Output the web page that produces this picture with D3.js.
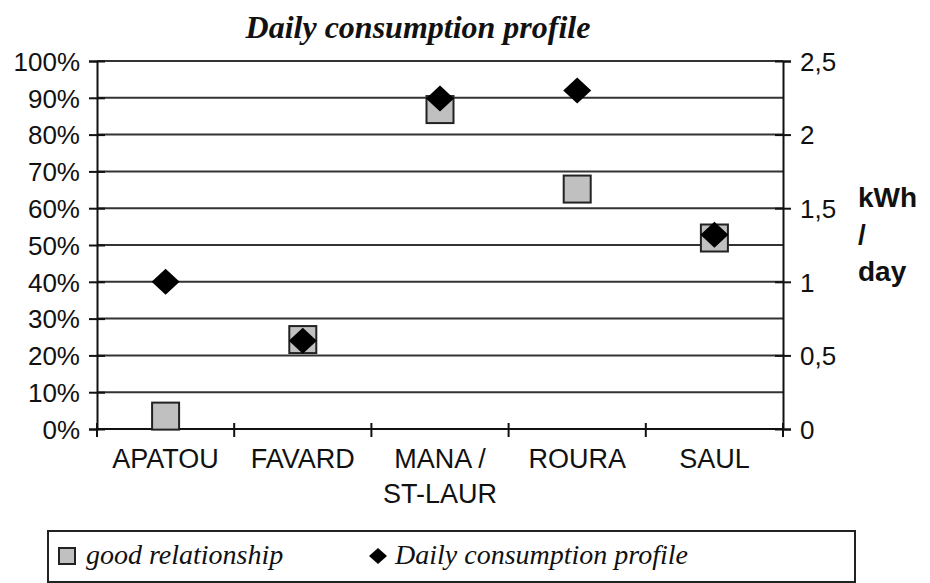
<!DOCTYPE html>
<html>
<head>
<meta charset="utf-8">
<script src="https://cdn.jsdelivr.net/npm/d3@7"></script>
<style>
  body { margin: 0; background: #fff; }
  svg { display: block; }
  text { fill: #111; }
</style>
</head>
<body>
<div id="chart"></div>
<script>
// data
const categories = ["APATOU", "FAVARD", "MANA /\nST-LAUR", "ROURA", "SAUL"];
const goodRelationship = [0.035, 0.243, 0.868, 0.652, 0.519];   // left axis, share
const dailyConsumption = [1.0, 0.6, 2.245, 2.3, 1.32];           // right axis, kWh/day
const leftTicks = [0, 0.1, 0.2, 0.3, 0.4, 0.5, 0.6, 0.7, 0.8, 0.9, 1];
const rightTicks = [0, 0.5, 1, 1.5, 2, 2.5];

const width = 930, height = 583;
const sans = "'Liberation Sans', Arial, sans-serif";
const serif = "'Liberation Serif', 'Times New Roman', serif";

const svg = d3.select("#chart").append("svg")
    .attr("width", width)
    .attr("height", height);

const plot = { left: 97, right: 783, top: 61, bottom: 429 };

const x = d3.scaleBand()
    .domain(categories)
    .range([plot.left, plot.right]);

const yLeft = d3.scaleLinear().domain([0, 1]).range([plot.bottom, plot.top]);
const yRight = d3.scaleLinear().domain([0, 2.5]).range([plot.bottom, plot.top]);

// gridlines
svg.append("g")
    .selectAll("line")
    .data(leftTicks.filter(d => d > 0))
    .join("line")
    .attr("x1", plot.left).attr("x2", plot.right)
    .attr("y1", d => yLeft(d)).attr("y2", d => yLeft(d))
    .attr("stroke", "#333").attr("stroke-width", 2);

// left axis
const leftAxis = svg.append("g")
    .attr("transform", `translate(${plot.left},0)`)
    .call(d3.axisLeft(yLeft).tickValues(leftTicks).tickFormat(d3.format(".0%")).tickSize(8).tickPadding(9));
leftAxis.select(".domain").attr("stroke", "#111").attr("stroke-width", 2);
leftAxis.selectAll(".tick line").attr("x1", -8).attr("x2", 8).attr("stroke", "#111").attr("stroke-width", 2);
leftAxis.selectAll(".tick text")
    .attr("font-family", sans).attr("font-size", 26).attr("fill", "#111").attr("dy", "0.36em");

// right axis
const rightAxis = svg.append("g")
    .attr("transform", `translate(${plot.right},0)`)
    .call(d3.axisRight(yRight).tickValues(rightTicks).tickFormat(d => String(d).replace(".", ",")).tickSize(8).tickPadding(9));
rightAxis.select(".domain").attr("stroke", "#111").attr("stroke-width", 2);
rightAxis.selectAll(".tick line").attr("x1", -8).attr("x2", 8).attr("stroke", "#111").attr("stroke-width", 2);
rightAxis.selectAll(".tick text")
    .attr("font-family", sans).attr("font-size", 26).attr("fill", "#111").attr("dy", "0.36em");

// bottom axis (category boundaries)
svg.append("line")
    .attr("x1", plot.left).attr("x2", plot.right)
    .attr("y1", plot.bottom).attr("y2", plot.bottom)
    .attr("stroke", "#111").attr("stroke-width", 2);

const boundaries = categories.map(c => x(c)).concat([x.range()[1]]);
svg.append("g")
    .selectAll("line")
    .data(boundaries)
    .join("line")
    .attr("x1", d => d).attr("x2", d => d)
    .attr("y1", plot.bottom - 6).attr("y2", plot.bottom + 8)
    .attr("stroke", "#111").attr("stroke-width", 2);

svg.append("g")
    .selectAll("text")
    .data(categories)
    .join("text")
    .attr("x", d => x(d) + x.bandwidth() / 2)
    .attr("y", 468)
    .attr("text-anchor", "middle")
    .attr("font-family", sans)
    .attr("font-size", 27)
    .each(function(d) {
        const lines = d.split("\n");
        d3.select(this).selectAll("tspan")
            .data(lines)
            .join("tspan")
            .attr("x", x(d) + x.bandwidth() / 2)
            .attr("dy", (l, i) => i === 0 ? 0 : 35)
            .text(l => l);
    });

// markers: squares (left axis)
const sq = 27;
svg.append("g")
    .selectAll("rect")
    .data(goodRelationship)
    .join("rect")
    .attr("x", (d, i) => x(categories[i]) + x.bandwidth() / 2 - sq / 2)
    .attr("y", d => yLeft(d) - sq / 2)
    .attr("width", sq).attr("height", sq)
    .attr("fill", "#c0c0c0")
    .attr("stroke", "#222").attr("stroke-width", 2);

// markers: diamonds (right axis)
const dw = 14, dh = 13;
svg.append("g")
    .selectAll("path")
    .data(dailyConsumption)
    .join("path")
    .attr("transform", (d, i) => `translate(${x(categories[i]) + x.bandwidth() / 2},${yRight(d)})`)
    .attr("d", `M0,${-dh}L${dw},0L0,${dh}L${-dw},0Z`)
    .attr("fill", "#000");

// title
svg.append("text")
    .attr("x", 418).attr("y", 38)
    .attr("text-anchor", "middle")
    .attr("font-family", serif)
    .attr("font-size", 32)
    .attr("font-weight", "bold")
    .attr("font-style", "italic")
    .text("Daily consumption profile");

// right axis unit
svg.append("text")
    .attr("x", 858).attr("y", 207)
    .attr("font-family", sans)
    .attr("font-size", 28)
    .attr("font-weight", "bold")
    .selectAll("tspan")
    .data(["kWh", "/", "day"])
    .join("tspan")
    .attr("x", 858)
    .attr("dy", (d, i) => i === 0 ? 0 : 37)
    .text(d => d);

// legend
const legend = svg.append("g");
legend.append("rect")
    .attr("x", 48).attr("y", 531)
    .attr("width", 807).attr("height", 51)
    .attr("fill", "#fff")
    .attr("stroke", "#222").attr("stroke-width", 2);
legend.append("rect")
    .attr("x", 59).attr("y", 548)
    .attr("width", 16).attr("height", 16)
    .attr("fill", "#c0c0c0")
    .attr("stroke", "#222").attr("stroke-width", 2);
legend.append("text")
    .attr("x", 86).attr("y", 564)
    .attr("font-family", serif).attr("font-size", 28).attr("font-style", "italic")
    .text("good relationship");
legend.append("path")
    .attr("transform", "translate(378,556)")
    .attr("d", "M0,-8L9,0L0,8L-9,0Z")
    .attr("fill", "#000");
legend.append("text")
    .attr("x", 395).attr("y", 564)
    .attr("font-family", serif).attr("font-size", 28).attr("font-style", "italic")
    .text("Daily consumption profile");
</script>
</body>
</html>
